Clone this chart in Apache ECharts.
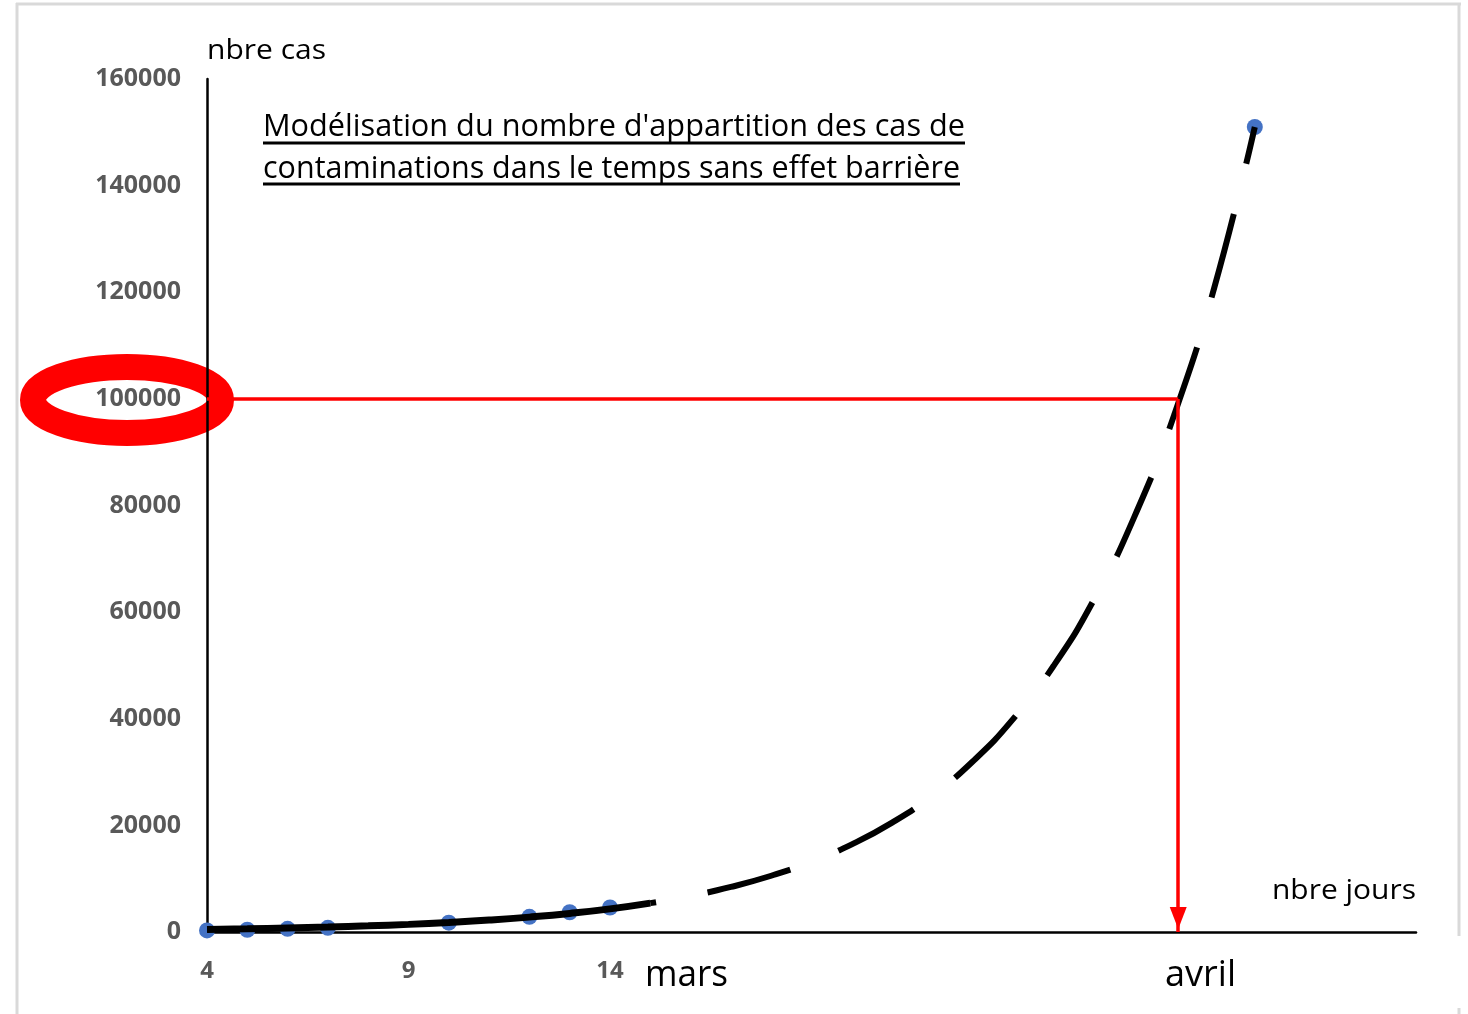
<!DOCTYPE html>
<html><head><meta charset="utf-8">
<script src="https://cdn.jsdelivr.net/npm/echarts@6/dist/echarts.min.js"></script>
<style>html,body{margin:0;padding:0;background:#fff}#c{width:1468px;height:1014px}</style>
</head><body><div id="c"></div>
<script>
// ---- data ----
const obsDays  = [4, 5, 6, 7, 10, 12, 13, 14, 30];
const obsCases = [300, 420, 600, 780, 1750, 2850, 3700, 4600, 151000];

const trendDays  = [4, 5, 6, 7, 8, 9, 10, 11, 12, 13, 14, 15, 16, 17, 18, 19, 20, 21, 22, 23, 24, 25, 26, 27, 28, 29, 30];
const trendCases = [470, 590, 740, 920, 1150, 1430, 1790, 2230, 2790, 3480, 4340, 5420, 6770, 8450, 10550, 13170, 16440, 20520, 25620, 31980, 39920, 49840, 62220, 77680, 97000, 121000, 151000];
const solidUntil = 15;

const readDay = 28.1;
const readCases = 100000;

const xMin = 4, xMax = 34, xStep = 5;
const xShownLabels = [4, 9, 14];
const yMin = 0, yMax = 160000, yStep = 20000;

const titleLines = ["Modélisation du nombre d'appartition des cas de", "contaminations dans le temps sans effet barrière"];
const yName = 'nbre cas';
const xName = 'nbre jours';
const monthA = 'mars';
const monthB = 'avril';

// ---- build ----
const solid = [], dashed = [];
trendDays.forEach((d, i) => {
  if (d <= solidUntil) solid.push([d, trendCases[i]]);
  if (d >= solidUntil) dashed.push([d, trendCases[i]]);
});
const points = obsDays.map((d, i) => [d, obsCases[i]]);

const FONT = '"Open Sans", "Noto Sans", sans-serif';
const mctx = document.createElement('canvas').getContext('2d');
function fitText(str, left, baseline, size, targetW, color, weight) {
  const font = (weight || 'normal') + ' ' + size + 'px ' + FONT;
  mctx.font = font;
  const w = mctx.measureText(str).width;
  return {
    type: 'text', x: left, y: baseline + 0.17 * size, scaleX: targetW / w, z: 10,
    style: { text: str, font: font, fill: color || '#000', textAlign: 'left', textVerticalAlign: 'bottom' }
  };
}
function hline(x1, x2, y, w, color, z) {
  return { type: 'line', z: z || 10, shape: { x1: x1, y1: y, x2: x2, y2: y }, style: { stroke: color, lineWidth: w } };
}
function vline(x, y1, y2, w, color) {
  return { type: 'line', z: 10, shape: { x1: x, y1: y1, x2: x, y2: y2 }, style: { stroke: color, lineWidth: w } };
}

const chart = echarts.init(document.getElementById('c'), null, { renderer: 'canvas' });
const option = {
  animation: false,
  backgroundColor: '#fff',
  grid: { left: 207, right: 52, top: 79, bottom: 82, containLabel: false },
  xAxis: {
    type: 'value', min: xMin, max: xMax, interval: xStep,
    axisLine: { show: true, onZero: false, lineStyle: { color: '#000', width: 2.5 } },
    axisTick: { show: false },
    splitLine: { show: false },
    axisLabel: {
      margin: 27, color: '#595959', fontFamily: FONT, fontWeight: 'bold', fontSize: 24,
      formatter: v => xShownLabels.includes(v) ? String(v) : ''
    }
  },
  yAxis: {
    type: 'value', min: yMin, max: yMax, interval: yStep,
    axisLine: { show: true, lineStyle: { color: '#000', width: 2.5 } },
    axisTick: { show: false },
    splitLine: { show: false },
    axisLabel: { margin: 26, color: '#595959', fontFamily: FONT, fontWeight: 'bold', fontSize: 25,
      formatter: v => String(v) }
  },
  series: [
    {
      type: 'scatter', data: points, symbolSize: 16, z: 2,
      itemStyle: { color: '#4472C4', opacity: 1 }
    },
    {
      type: 'line', data: solid, smooth: true, symbol: 'none', z: 3,
      lineStyle: { color: '#000', width: 7 }
    },
    {
      type: 'line', data: dashed, smooth: true, symbol: 'none', z: 3,
      lineStyle: { color: '#000', width: 6, type: [86, 52], dashOffset: 80, cap: 'butt' }
    },
    {
      type: 'line', data: [], z: 4,
      markLine: {
        silent: true, animation: false,
        label: { show: false },
        lineStyle: { color: '#FF0000', width: 3.5, type: 'solid' },
        data: [
          [{ coord: [xMin, readCases], symbol: 'none' }, { coord: [readDay, readCases], symbol: 'none' }],
          [{ coord: [readDay, readCases], symbol: 'none' }, { coord: [readDay, 0], symbol: 'triangle', symbolSize: [17, 22], symbolOffset: [0, 14] }]
        ]
      }
    }
  ]
};
chart.setOption(option);

// annotations positioned relative to the axes
const p100 = chart.convertToPixel({ gridIndex: 0 }, [xMin, readCases]);
const gfx = [];
// frame
gfx.push(vline(17, 3, 1014, 3, '#d9d9d9'));
gfx.push(hline(16, 1461, 4, 3, '#d9d9d9'));
gfx.push(vline(1459, 3, 936, 3, '#d9d9d9'));
gfx.push(vline(1459, 1008, 1014, 3, '#d9d9d9'));
// red ellipse around the 100000 tick label
gfx.push({ type: 'ellipse', z: -1, shape: { cx: p100[0] - 80, cy: p100[1] + 1, rx: 94, ry: 33 },
  style: { fill: null, stroke: '#FF0000', lineWidth: 26 } });
// title (underlined)
gfx.push(fitText(titleLines[0], 263, 137, 31, 702, '#000'));
gfx.push(hline(263, 965, 143, 3, '#000'));
gfx.push(fitText(titleLines[1], 263, 179, 31, 697, '#000'));
gfx.push(hline(263, 960, 184, 3, '#000'));
// axis names & months
gfx.push(fitText(yName, 207, 60, 28, 119, '#000'));
gfx.push(fitText(xName, 1272, 900, 27, 144, '#000'));
gfx.push(fitText(monthA, 645, 988, 36, 83, '#000'));
gfx.push(fitText(monthB, 1165, 988, 36, 71, '#000'));
chart.setOption({ graphic: { elements: gfx } });
</script>
</body></html>
